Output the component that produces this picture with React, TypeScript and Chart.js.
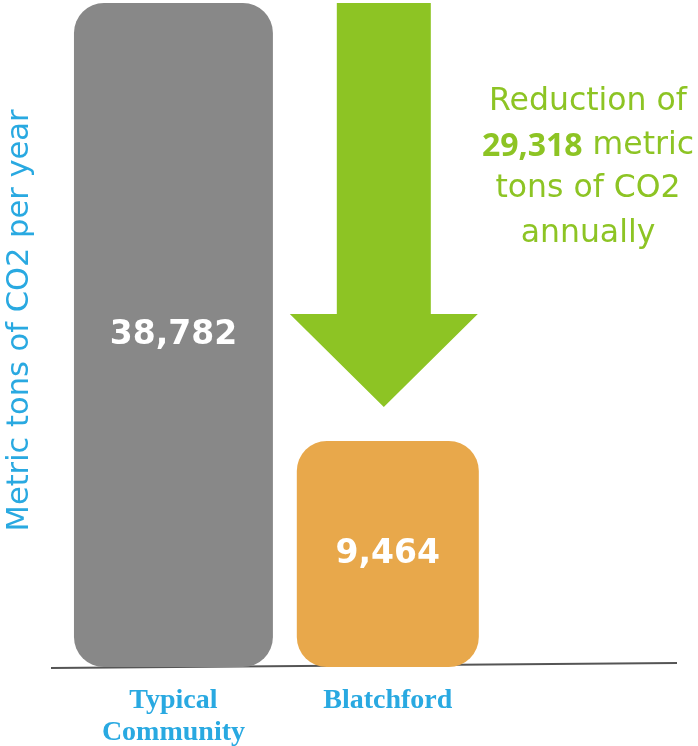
import React, { useEffect, useRef } from "react";
import { Chart, registerables } from "chart.js";

Chart.register(...registerables);

// ---- data ----
const categories: string[][] = [["Typical", "Community"], ["Blatchford"]];
const typicalValues: (number | null)[] = [38782, null];
const blatchfordValues: (number | null)[] = [null, 9464];
const valueLabels: string[] = ["38,782", "9,464"];
const reductionBold = "29,318";
const reductionLines: string[] = ["Reduction of", " metric", "tons of CO2", "annually"];
const yAxisTitle = "Metric tons of CO2 per year";

// ---- styles ----
const GRAY = "#888888";
const ORANGE = "#E8A84B";
const GREEN = "#8DC424";
const BLUE = "#29A9E1";
const SANS = "'DejaVu Sans', sans-serif";

const baselinePlugin = {
  id: "baseline",
  beforeDatasetsDraw(chart: any) {
    const { ctx, chartArea } = chart;
    ctx.save();
    ctx.strokeStyle = "#555555";
    ctx.lineWidth = 2;
    ctx.beginPath();
    ctx.moveTo(51, chartArea.bottom + 1);
    ctx.lineTo(677, chartArea.bottom - 4);
    ctx.stroke();
    ctx.restore();
  },
};

const arrowPlugin = {
  id: "arrow",
  afterDatasetsDraw(chart: any) {
    const { ctx, chartArea } = chart;
    const meta = chart.getDatasetMeta(1);
    const el = meta.data[1];
    if (!el) return;
    const cx = el.x - 4;
    const top = chartArea.top;
    const tip = el.y - 34;
    const headStart = tip - 93;
    ctx.save();
    ctx.fillStyle = GREEN;
    ctx.beginPath();
    ctx.moveTo(cx - 47, top);
    ctx.lineTo(cx + 47, top);
    ctx.lineTo(cx + 47, headStart);
    ctx.lineTo(cx + 94, headStart);
    ctx.lineTo(cx, tip);
    ctx.lineTo(cx - 94, headStart);
    ctx.lineTo(cx - 47, headStart);
    ctx.closePath();
    ctx.fill();
    ctx.restore();
  },
};

const valueLabelPlugin = {
  id: "valueLabels",
  afterDatasetsDraw(chart: any) {
    const { ctx } = chart;
    ctx.save();
    ctx.fillStyle = "#ffffff";
    ctx.font = `bold 33px ${SANS}`;
    ctx.textAlign = "center";
    ctx.textBaseline = "middle";
    chart.data.datasets.forEach((ds: any, di: number) => {
      const meta = chart.getDatasetMeta(di);
      ds.data.forEach((v: number | null, i: number) => {
        if (v == null) return;
        const el = meta.data[i];
        ctx.fillText(valueLabels[i], el.x, (el.y + el.base) / 2);
      });
    });
    ctx.restore();
  },
};

const reductionPlugin = {
  id: "reduction",
  afterDraw(chart: any) {
    const { ctx } = chart;
    const cx = 588;
    const ys = [102, 146, 189, 234];
    const reg = `31.5px ${SANS}`;
    const bold = `bold 32px 'Open Sans', sans-serif`;
    ctx.save();
    ctx.fillStyle = GREEN;
    ctx.textBaseline = "middle";
    ctx.textAlign = "center";
    ctx.font = reg;
    ctx.fillText(reductionLines[0], cx, ys[0]);
    ctx.fillText(reductionLines[2], cx, ys[2]);
    ctx.fillText(reductionLines[3], cx, ys[3]);
    // mixed line
    ctx.font = bold;
    const wb = ctx.measureText(reductionBold).width;
    ctx.font = reg;
    const wr = ctx.measureText(reductionLines[1]).width;
    const start = cx - (wb + wr) / 2;
    ctx.textAlign = "left";
    ctx.font = bold;
    ctx.fillText(reductionBold, start, ys[1] + 1);
    ctx.font = reg;
    ctx.fillText(reductionLines[1], start + wb, ys[1]);
    ctx.restore();
  },
};

export default function App() {
  const canvasRef = useRef<HTMLCanvasElement | null>(null);

  useEffect(() => {
    if (!canvasRef.current) return;
    const chart = new Chart(canvasRef.current, {
      type: "bar",
      data: {
        labels: categories,
        datasets: [
          {
            data: typicalValues,
            backgroundColor: GRAY,
            borderRadius: 30,
            borderSkipped: false,
            barPercentage: 0.928,
            categoryPercentage: 1,
            grouped: false,
          },
          {
            data: blatchfordValues,
            backgroundColor: ORANGE,
            borderRadius: 30,
            borderSkipped: false,
            barPercentage: 0.849,
            categoryPercentage: 1,
            grouped: false,
          },
        ] as any,
      },
      options: {
        animation: false,
        responsive: true,
        maintainAspectRatio: false,
        layout: { padding: { top: 3, left: 0, right: 203, bottom: -21 } },
        plugins: {
          legend: { display: false },
          tooltip: { enabled: false },
        },
        scales: {
          x: {
            grid: { display: false, drawTicks: false },
            border: { display: false },
            ticks: {
              color: BLUE,
              padding: 18,
              maxRotation: 0,
              autoSkip: false,
              font: { family: "'Liberation Serif', serif", weight: "bold", size: 28, lineHeight: 1.143 },
            },
          },
          y: {
            type: "logarithmic",
            min: 4573,
            max: 38782,
            grid: { display: false, drawTicks: false },
            border: { display: false },
            ticks: { display: false },
            title: {
              display: true,
              text: "   " + yAxisTitle,
              color: BLUE,
              font: { family: SANS, size: 30.5, lineHeight: 1 },
              padding: { top: 5, bottom: 30.75 },
            },
          },
        },
      },
      plugins: [baselinePlugin, arrowPlugin, valueLabelPlugin, reductionPlugin],
    });
    return () => chart.destroy();
  }, []);

  return (
    <div style={{ position: "absolute", left: 0, top: 0, width: 698, height: 746 }}>
      <canvas ref={canvasRef} />
    </div>
  );
}
